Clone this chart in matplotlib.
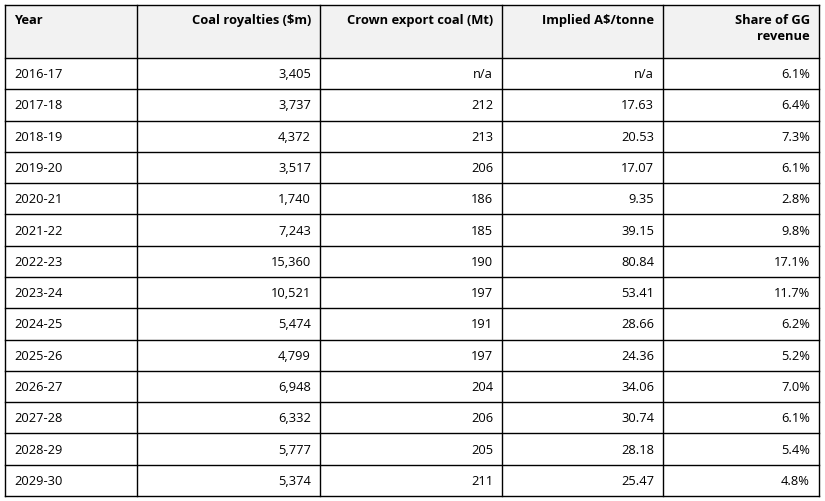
import matplotlib.pyplot as plt
from matplotlib.patches import Rectangle

headers = ["Year", "Coal royalties ($m)", "Crown export coal (Mt)", "Implied A$/tonne", "Share of GG\nrevenue"]
years = ["2016-17", "2017-18", "2018-19", "2019-20", "2020-21", "2021-22", "2022-23",
         "2023-24", "2024-25", "2025-26", "2026-27", "2027-28", "2028-29", "2029-30"]
royalties = ["3,405", "3,737", "4,372", "3,517", "1,740", "7,243", "15,360",
             "10,521", "5,474", "4,799", "6,948", "6,332", "5,777", "5,374"]
export_mt = ["n/a", "212", "213", "206", "186", "185", "190",
             "197", "191", "197", "204", "206", "205", "211"]
per_tonne = ["n/a", "17.63", "20.53", "17.07", "9.35", "39.15", "80.84",
             "53.41", "28.66", "24.36", "34.06", "30.74", "28.18", "25.47"]
gg_share = ["6.1%", "6.4%", "7.3%", "6.1%", "2.8%", "9.8%", "17.1%",
            "11.7%", "6.2%", "5.2%", "7.0%", "6.1%", "5.4%", "4.8%"]

W, H = 825, 502
fig = plt.figure(figsize=(W / 100, H / 100), dpi=100)
ax = fig.add_axes([0, 0, 1, 1])
ax.set_xlim(0, W)
ax.set_ylim(H, 0)
ax.axis("off")

cols = [5, 137, 320, 502, 663, 819]
top, head_bot, bottom = 6, 59, 497
row_h = (bottom - head_bot) / len(years)
font = "Open Sans"
fs = 9.3

ax.add_patch(Rectangle((cols[0], top), cols[-1] - cols[0], head_bot - top,
                       facecolor="#f2f2f2", edgecolor="none"))

# grid lines
for x in cols:
    ax.plot([x, x], [top, bottom], color="black", lw=1)
ys = [top, head_bot] + [head_bot + row_h * (i + 1) for i in range(len(years))]
for y in ys:
    ax.plot([cols[0], cols[-1]], [y, y], color="black", lw=1)

pad = 9
for j, h in enumerate(headers):
    if j == 0:
        ax.text(cols[0] + pad, top + 8, h, ha="left", va="top", fontsize=fs,
                fontweight="bold", family=font)
    else:
        ax.text(cols[j + 1] - pad, top + 8, h, ha="right", va="top", fontsize=fs,
                fontweight="bold", family=font, multialignment="right", linespacing=1.35)

columns = [years, royalties, export_mt, per_tonne, gg_share]
for i in range(len(years)):
    yc = head_bot + row_h * (i + 0.5)
    for j, col in enumerate(columns):
        if j == 0:
            ax.text(cols[0] + pad, yc, col[i], ha="left", va="center", fontsize=fs, family=font)
        else:
            ax.text(cols[j + 1] - pad, yc, col[i], ha="right", va="center", fontsize=fs, family=font)

fig.savefig("out.png", dpi=100, facecolor="white")
